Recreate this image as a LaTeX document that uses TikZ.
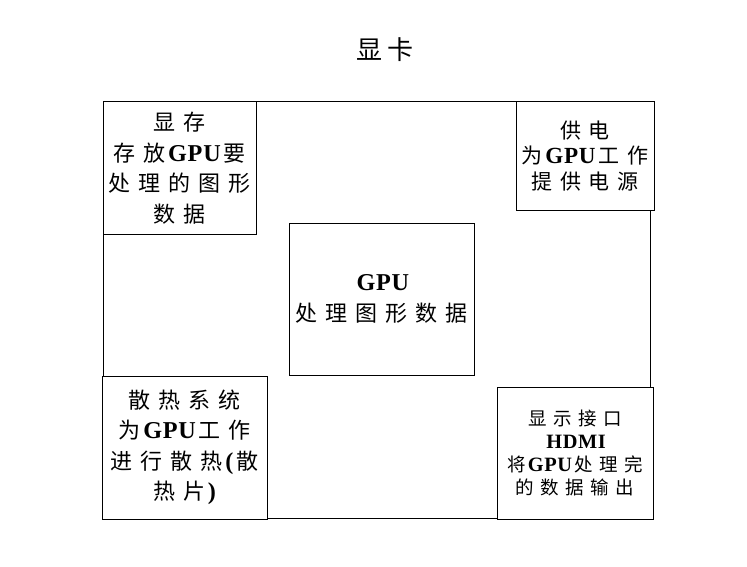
\documentclass[tikz,border=0pt]{standalone}
\usepackage{fontspec}
\setmainfont{Liberation Serif}
\newfontfamily\cjkA[LetterSpace=36]{Noto Sans CJK SC}
\newfontfamily\cjkB[LetterSpace=38]{Noto Sans CJK SC}
\newfontfamily\cjkC[LetterSpace=35]{Noto Sans CJK SC}
\newfontfamily\cjkT[LetterSpace=16]{Noto Sans CJK SC}
\newfontfamily\lat[LetterSpace=3,Scale=1.1]{Liberation Serif}
\newcommand\G[1]{\hspace{0.12em}{\lat\bfseries #1}\hspace{0.12em}}
\begin{document}
\begin{tikzpicture}[x=1pt,y=-1pt,
  box/.style={draw=black,line width=1pt,fill=white,inner sep=0pt,align=center,
    minimum width=#1},
  txtA/.style={font=\cjkA\fontsize{22}{30.5}\selectfont},
  txtB/.style={font=\cjkB\fontsize{21}{25.5}\selectfont},
  txtC/.style={font=\cjkC\fontsize{18.5}{23}\selectfont}]
\useasboundingbox (0,0) rectangle (747,567);
\node[draw=black,line width=1pt,minimum width=547pt,minimum height=416pt,inner sep=0pt] (frame) at (376.5,310) {};
\node[font=\cjkT\fontsize{26}{28}\selectfont] (title) at (385,50) {显卡};
\node[box=153pt,minimum height=132pt,txtA] (mem) at (179.5,168)
  {显存\\存放\G{GPU}要\\处理的图形\\数据};
\node[box=138pt,minimum height=108pt,txtB] (pwr) at (585,156)
  {供电\\为\G{GPU}工作\\提供电源};
\node[box=165pt,minimum height=143pt,txtA] (cool) at (184.5,447.5)
  {散热系统\\为\G{GPU}工作\\进行散热\G{(}散\\热片\G{)}};
\node[box=156pt,minimum height=132pt,txtC] (port) at (575,453)
  {显示接口\\\G{HDMI}\\将\G{GPU}处理完\\的数据输出};
\node[box=185pt,minimum height=152pt,txtA] (gpu) at (381.5,299)
  {\G{GPU}\\处理图形数据};
\end{tikzpicture}
\end{document}
